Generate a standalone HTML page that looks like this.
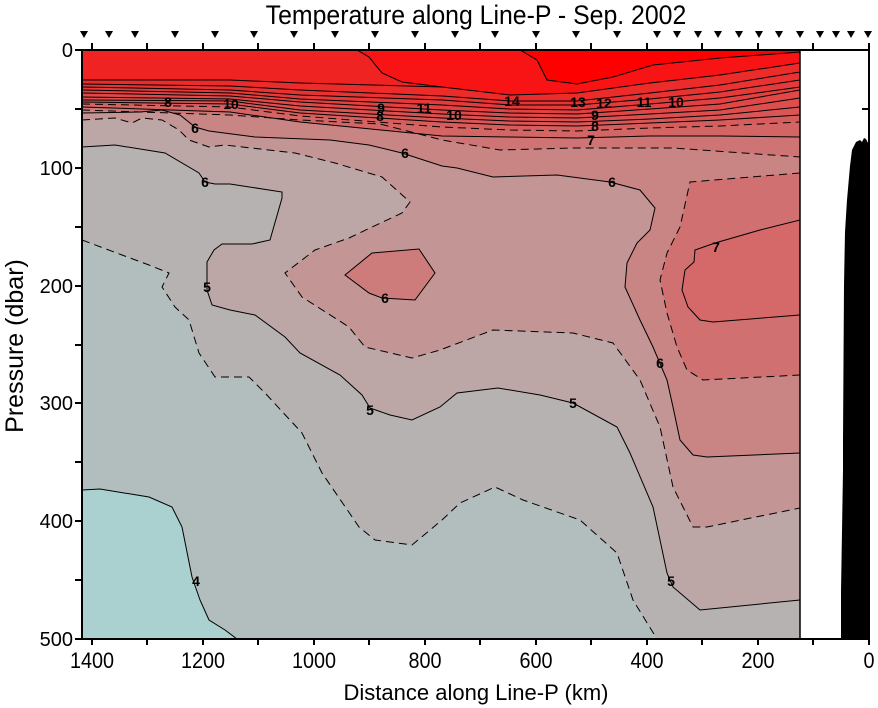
<!DOCTYPE html>
<html><head><meta charset="utf-8"><style>
html,body{margin:0;padding:0;background:#fff;}
svg{display:block;font-family:"Liberation Sans",sans-serif;}
</style></head><body>
<svg width="878" height="708" viewBox="0 0 878 708" xmlns="http://www.w3.org/2000/svg">
<defs><clipPath id="pc"><rect x="82" y="50" width="718" height="589"/></clipPath></defs>
<g clip-path="url(#pc)">
<rect x="82" y="50" width="718" height="589" fill="#b2bdbd"/>
<polygon fill="#aad0cf" points="82,490 100,489 149,497 172,507 182,527 192,577 200,600 209,620 225,630 237,639 82,639"/>
<polygon fill="#b7b2b2" points="82,50 800,50 800,639 657,639 633,600 617,553 580,520 523,500 495,487 460,503 442,520 412,545 375,540 359,527 322,473 302,433 265,393 249,377 215,377 199,353 189,320 175,307 162,287 169,273 149,265 122,255 82,240"/>
<polygon fill="#bca6a6" points="82,50 800,50 800,600 700,610 673,587 667,573 653,507 630,453 617,427 573,403 540,395 498,388 457,393 440,407 412,420 390,415 370,408 362,395 340,375 300,353 285,337 255,315 230,310 212,305 207,290 207,262 214,250 222,244 252,244 270,240 282,198 282,192 230,184 215,184 205,182 199,173 165,153 115,145 82,147"/>
<polygon fill="#c39595" points="82,50 800,50 800,508 707,527 693,527 673,487 660,427 640,380 613,343 573,333 493,330 440,350 412,358 365,347 349,327 302,297 285,273 315,250 349,238 372,227 402,213 410,202 382,177 335,163 295,153 225,145 209,147 189,140 179,130 162,120 142,118 132,123 115,118 82,120"/>
<polygon fill="#c98484" points="82,50 800,50 800,453 707,457 693,455 680,440 673,407 667,380 653,347 640,320 625,287 627,263 637,243 650,230 655,208 640,190 610,182 557,175 493,177 457,168 442,166 402,153 369,145 330,140 255,137 209,131 195,127 180,115 162,110 140,112 82,113"/>
<polygon fill="#cd7b7b" points="345,275 372,253 419,249 435,273 415,300 382,298 369,293"/>
<polygon fill="#cf7474" points="82,50 800,50 800,157 673,148 573,148 500,150 442,140 380,124 300,120 230,115 82,110"/>
<polygon fill="#d07070" points="800,173 690,182 680,227 667,253 660,280 667,313 677,347 687,370 703,380 800,375"/>
<polygon fill="#d56969" points="800,220 760,230 715,243 695,250 694,262 685,270 682,290 688,307 700,320 713,322 800,315"/>
<polygon fill="#d36565" points="82,50 800,50 800,137 720,136 650,136 577,138 510,137 442,136 300,122 230,112 82,107"/>
<polygon fill="#d75d5d" points="82,50 800,50 800,122 720,126 650,128 577,131 510,130 442,127 300,116 230,107 82,104"/>
<polygon fill="#da5656" points="82,50 800,50 800,115 720,120 650,123 577,126 510,125 442,122 300,113 230,104 82,102"/>
<polygon fill="#dd4f4f" points="82,50 800,50 800,107 720,115 650,119 577,122 510,121 442,118 300,110 230,101 82,100"/>
<polygon fill="#e04848" points="82,50 800,50 800,98 720,110 650,114 577,118 510,117 442,114 300,106 230,99 82,97"/>
<polygon fill="#e34141" points="82,50 800,50 800,90 720,104 650,109 577,114 510,113 442,110 300,102 230,96 82,93"/>
<polygon fill="#e63a3a" points="82,50 800,50 800,87 720,98 650,104 577,110 510,109 442,105 300,99 230,93 82,90"/>
<polygon fill="#e93232" points="82,50 800,50 800,80 720,92 650,99 577,105 510,105 442,100 300,95 230,90 82,87"/>
<polygon fill="#ec2b2b" points="82,50 800,50 800,72 720,85 650,93 577,101 510,101 442,96 300,90 230,86 82,84"/>
<polygon fill="#f02323" points="82,50 800,50 800,63 720,75 650,83 577,93 510,95 442,87 300,83 230,80 82,80"/>
<polygon fill="#f81414" points="357,50 800,50 800,63 720,75 650,83 577,93 510,95 442,87 402,82 382,73 369,57"/>
<polygon fill="#ff0000" points="520,50 800,50 800,52 787,53 720,58 653,65 613,77 577,84 547,80 537,60"/>
</g>
<g fill="none" stroke="#000" stroke-width="1" clip-path="url(#pc)">
<polyline points="82,490 100,489 149,497 172,507 182,527 192,577 200,600 209,620 225,630 237,639"/>
<polyline stroke-dasharray="8,5" points="82,240 122,255 149,265 169,273 162,287 175,307 189,320 199,353 215,377 249,377 265,393 302,433 322,473 359,527 375,540 412,545 442,520 460,503 495,487 523,500 580,520 617,553 633,600 657,639"/>
<polyline points="82,147 115,145 165,153 199,173 205,182 215,184 230,184 282,192 282,198 270,240 252,244 222,244 214,250 207,262 207,290 212,305 230,310 255,315 285,337 300,353 340,375 362,395 370,408 390,415 412,420 440,407 457,393 498,388 540,395 573,403 617,427 630,453 653,507 667,573 673,587 700,610 800,600"/>
<polyline stroke-dasharray="8,5" points="82,120 115,118 132,123 142,118 162,120 179,130 189,140 209,147 225,145 295,153 335,163 382,177 410,202 402,213 372,227 349,238 315,250 285,273 302,297 349,327 365,347 412,358 440,350 493,330 573,333 613,343 640,380 660,427 673,487 693,527 707,527 800,508"/>
<polyline points="82,113 140,112 162,110 180,115 195,127 209,131 255,137 330,140 369,145 402,153 442,166 457,168 493,177 557,175 610,182 640,190 655,208 650,230 637,243 627,263 625,287 640,320 653,347 667,380 673,407 680,440 693,455 707,457 800,453"/>
<polygon points="345,275 372,253 419,249 435,273 415,300 382,298 369,293"/>
<polyline stroke-dasharray="8,5" points="82,110 230,115 300,120 380,124 442,140 500,150 573,148 673,148 800,157"/>
<polyline stroke-dasharray="8,5" points="800,173 690,182 680,227 667,253 660,280 667,313 677,347 687,370 703,380 800,375"/>
<polyline points="800,220 760,230 715,243 695,250 694,262 685,270 682,290 688,307 700,320 713,322 800,315"/>
<polyline points="82,107 230,112 300,122 442,136 510,137 577,138 650,136 720,136 800,137"/>
<polyline stroke-dasharray="8,5" points="82,104 230,107 300,116 442,127 510,130 577,131 650,128 720,126 800,122"/>
<polyline points="82,102 230,104 300,113 442,122 510,125 577,126 650,123 720,120 800,115"/>
<polyline points="82,100 230,101 300,110 442,118 510,121 577,122 650,119 720,115 800,107"/>
<polyline points="82,97 230,99 300,106 442,114 510,117 577,118 650,114 720,110 800,98"/>
<polyline points="82,93 230,96 300,102 442,110 510,113 577,114 650,109 720,104 800,90"/>
<polyline points="82,90 230,93 300,99 442,105 510,109 577,110 650,104 720,98 800,87"/>
<polyline points="82,87 230,90 300,95 442,100 510,105 577,105 650,99 720,92 800,80"/>
<polyline points="82,84 230,86 300,90 442,96 510,101 577,101 650,93 720,85 800,72"/>
<polyline points="82,80 230,80 300,83 442,87 510,95 577,93 650,83 720,75 800,63"/>
<polyline points="357,50 369,57 382,73 402,82 442,87"/>
<polyline points="520,50 537,60 547,80 577,84 613,77 653,65 720,58 787,53 800,52"/>
</g>
<g font-size="14" font-weight="bold" fill="#000" text-anchor="middle">
<text x="168" y="107">8</text><text x="231" y="109">10</text><text x="195" y="133">6</text>
<text x="381" y="113">9</text><text x="380" y="121">8</text><text x="424" y="113">11</text><text x="454" y="120">10</text>
<text x="512" y="106">14</text><text x="578" y="107">13</text><text x="604" y="108">12</text><text x="644" y="107">11</text><text x="676" y="107">10</text>
<text x="595" y="120">9</text><text x="595" y="131">8</text><text x="591" y="145">7</text>
<text x="405" y="158">6</text><text x="205" y="187">6</text><text x="612" y="187">6</text><text x="716" y="252">7</text>
<text x="207" y="292">5</text><text x="385" y="303">6</text><text x="660" y="368">6</text><text x="370" y="415">5</text>
<text x="573" y="408">5</text><text x="671" y="586">5</text><text x="196" y="586">4</text>
</g>
<rect x="800" y="50" width="69" height="589" fill="#fff"/>
<polygon fill="#000" points="841,639 841,592 843,470 843,440 844,285 845,232 847,200 850,166 852,150 856,142 860,140 862,142 864,138 866,139 868,143 869,144 869,639"/>
<line x1="800" y1="50" x2="800" y2="639" stroke="#000" stroke-width="1.5"/>
<rect x="82" y="50" width="787" height="589" fill="none" stroke="#000" stroke-width="2"/>
<g stroke="#000" stroke-width="2">
<line x1="92" y1="639" x2="92" y2="645"/><line x1="147" y1="639" x2="147" y2="645"/><line x1="203" y1="639" x2="203" y2="645"/><line x1="258" y1="639" x2="258" y2="645"/><line x1="314" y1="639" x2="314" y2="645"/><line x1="369" y1="639" x2="369" y2="645"/><line x1="425" y1="639" x2="425" y2="645"/><line x1="480" y1="639" x2="480" y2="645"/><line x1="536" y1="639" x2="536" y2="645"/><line x1="591" y1="639" x2="591" y2="645"/><line x1="647" y1="639" x2="647" y2="645"/><line x1="702" y1="639" x2="702" y2="645"/><line x1="758" y1="639" x2="758" y2="645"/><line x1="813" y1="639" x2="813" y2="645"/><line x1="869" y1="639" x2="869" y2="645"/>
<line x1="92" y1="43" x2="92" y2="50"/><line x1="147" y1="43" x2="147" y2="50"/><line x1="203" y1="43" x2="203" y2="50"/><line x1="258" y1="43" x2="258" y2="50"/><line x1="314" y1="43" x2="314" y2="50"/><line x1="369" y1="43" x2="369" y2="50"/><line x1="425" y1="43" x2="425" y2="50"/><line x1="480" y1="43" x2="480" y2="50"/><line x1="536" y1="43" x2="536" y2="50"/><line x1="591" y1="43" x2="591" y2="50"/><line x1="647" y1="43" x2="647" y2="50"/><line x1="702" y1="43" x2="702" y2="50"/><line x1="758" y1="43" x2="758" y2="50"/><line x1="813" y1="43" x2="813" y2="50"/><line x1="869" y1="43" x2="869" y2="50"/>
<line x1="75" y1="50" x2="82" y2="50"/><line x1="75" y1="109" x2="82" y2="109"/><line x1="75" y1="168" x2="82" y2="168"/><line x1="75" y1="227" x2="82" y2="227"/><line x1="75" y1="286" x2="82" y2="286"/><line x1="75" y1="345" x2="82" y2="345"/><line x1="75" y1="403" x2="82" y2="403"/><line x1="75" y1="462" x2="82" y2="462"/><line x1="75" y1="521" x2="82" y2="521"/><line x1="75" y1="580" x2="82" y2="580"/><line x1="75" y1="639" x2="82" y2="639"/>
<line x1="862" y1="109" x2="869" y2="109"/><line x1="862" y1="168" x2="869" y2="168"/><line x1="862" y1="227" x2="869" y2="227"/><line x1="862" y1="286" x2="869" y2="286"/><line x1="862" y1="345" x2="869" y2="345"/><line x1="862" y1="403" x2="869" y2="403"/><line x1="862" y1="462" x2="869" y2="462"/><line x1="862" y1="521" x2="869" y2="521"/><line x1="862" y1="580" x2="869" y2="580"/>
</g>
<g fill="#000">
<polygon points="80,31 88,31 84,38"/><polygon points="105,31 113,31 109,38"/><polygon points="131,31 139,31 135,38"/><polygon points="171,31 179,31 175,38"/><polygon points="211,31 219,31 215,38"/><polygon points="250,31 258,31 254,38"/><polygon points="290,31 298,31 294,38"/><polygon points="331,31 339,31 335,38"/><polygon points="371,31 379,31 375,38"/><polygon points="411,31 419,31 415,38"/><polygon points="451,31 459,31 455,38"/><polygon points="491,31 499,31 495,38"/><polygon points="532,31 540,31 536,38"/><polygon points="572,31 580,31 576,38"/><polygon points="613,31 621,31 617,38"/><polygon points="653,31 661,31 657,38"/><polygon points="673,31 681,31 677,38"/><polygon points="694,31 702,31 698,38"/><polygon points="714,31 722,31 718,38"/><polygon points="735,31 743,31 739,38"/><polygon points="755,31 763,31 759,38"/><polygon points="775,31 783,31 779,38"/><polygon points="796,31 804,31 800,38"/><polygon points="816,31 824,31 820,38"/><polygon points="832,31 840,31 836,38"/><polygon points="847,31 855,31 851,38"/><polygon points="864,31 872,31 868,38"/>
</g>
<text x="476" y="24" font-size="27" text-anchor="middle" transform="translate(476 0) scale(0.92 1) translate(-476 0)">Temperature along Line-P - Sep. 2002</text>
<g font-size="22" text-anchor="middle">
<text x="92" y="668" transform="translate(92 0) scale(0.9 1) translate(-92 0)">1400</text>
<text x="203" y="668" transform="translate(203 0) scale(0.9 1) translate(-203 0)">1200</text>
<text x="314" y="668" transform="translate(314 0) scale(0.9 1) translate(-314 0)">1000</text>
<text x="425" y="668" transform="translate(425 0) scale(0.9 1) translate(-425 0)">800</text>
<text x="536" y="668" transform="translate(536 0) scale(0.9 1) translate(-536 0)">600</text>
<text x="647" y="668" transform="translate(647 0) scale(0.9 1) translate(-647 0)">400</text>
<text x="758" y="668" transform="translate(758 0) scale(0.9 1) translate(-758 0)">200</text>
<text x="869" y="668" transform="translate(869 0) scale(0.9 1) translate(-869 0)">0</text>
</g>
<text x="476" y="700" font-size="22" text-anchor="middle">Distance along Line-P (km)</text>
<g font-size="20" text-anchor="end">
<text x="73" y="57">0</text><text x="73" y="175">100</text><text x="73" y="293">200</text><text x="73" y="410">300</text><text x="73" y="528">400</text><text x="73" y="646">500</text>
</g>
<text x="0" y="0" font-size="25" text-anchor="middle" transform="translate(23 346) rotate(-90)">Pressure (dbar)</text>
</svg>
</body></html>
